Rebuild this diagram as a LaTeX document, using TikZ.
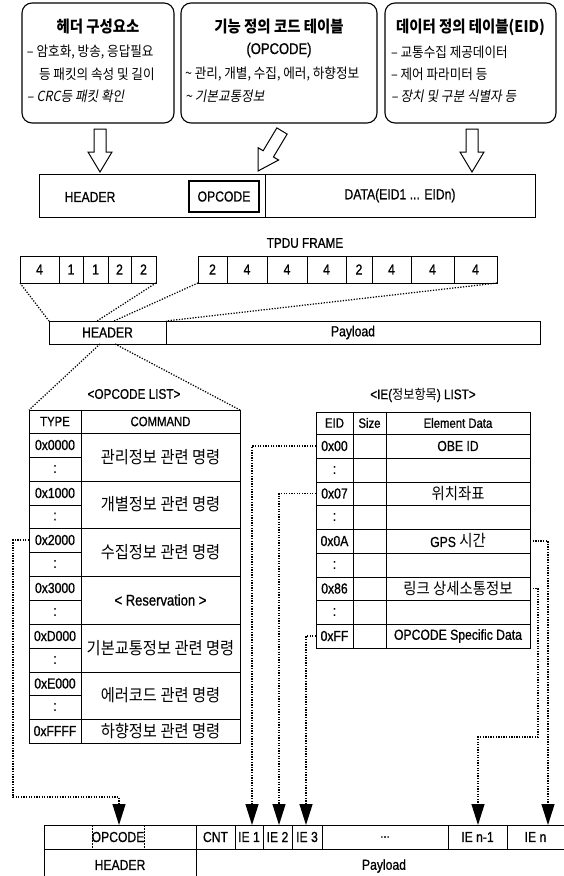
\documentclass[tikz,border=0pt]{standalone}
\usepackage{fontspec}
\setmainfont{Noto Sans CJK KR}
\newfontfamily\kr{Noto Sans CJK KR}[FakeStretch=0.9]
\newfontfamily\krit{Noto Sans CJK KR}[FakeStretch=0.9,FakeSlant=0.18]
\newfontfamily\cond{Liberation Sans}[FakeStretch=0.84,FakeBold=0.8]
\usetikzlibrary{arrows.meta}
\newcommand\latf{\cond\fontsize{14.5}{16}\selectfont}
\newcommand\latsm{\cond\fontsize{13.5}{15}\selectfont}
\newcommand\hanf{\kr\fontsize{17}{19}\selectfont}
\newcommand\hanie{\kr\fontsize{16}{18}\selectfont}
\newcommand\bodyf{\kr\fontsize{14}{16}\selectfont}
\newcommand\bodyit{\krit\fontsize{14}{16}\selectfont}
\newcommand\titf{\kr\bfseries\fontsize{16}{18}\selectfont}
\newcommand\cellnode[7][]{\node[cellst,#1,minimum width={#5-#3},minimum height={#6-#4}] (#2) at ({(#3+#5)/2},{(#4+#6)/2}) {#7};}
\tikzset{
  tbox/.style={draw, line width=1.1pt, rounded corners=10pt, inner sep=0, outer sep=0},
  cellst/.style={draw, line width=1pt, inner sep=0, outer sep=0, font=\latf},
  han/.style={font=\hanf},
  hanie/.style={font=\hanie},
  txt/.style={inner sep=0, outer sep=0},
  hol/.style={draw, line width=1pt, fill=white},
  dots/.style={line width=1.3pt, dash pattern=on 1.3pt off 1.3pt},
  thindots/.style={line width=1.25pt, dash pattern=on 1.25pt off 1.5pt},
  arr/.style={-{Triangle[length=21pt,width=13pt]}},
}
\begin{document}
\begin{tikzpicture}[x=1pt,y=-1pt]
\useasboundingbox (0,0) rectangle (564,876);
\fill[white] (0,0) rectangle (564,876);

% ---------- top description boxes ----------
\node[tbox, minimum width=152, minimum height=120] (b1) at (98,63) {};
\node[tbox, minimum width=196, minimum height=120] (b2) at (279,63) {};
\node[tbox, minimum width=171, minimum height=120] (b3) at (470.5,63) {};

\node[txt, font=\titf] (b1t) at (98,27) {헤더 구성요소};
\node[txt, font=\bodyf, anchor=west] (b1a) at (27,52) {– 암호화, 방송, 응답필요};
\node[txt, font=\bodyf, anchor=west] (b1b) at (39,74) {등 패킷의 속성 및 길이};
\node[txt, font=\bodyit, anchor=west] (b1c) at (27,96) {– CRC등 패킷 확인};

\node[txt, font=\titf] (b2t) at (279,27) {기능 정의 코드 테이블};
\node[txt, font=\cond\fontsize{15.5}{17}\selectfont] (b2o) at (279,50) {(OPCODE)};
\node[txt, font=\bodyf, anchor=west] (b2a) at (185,74) {\textasciitilde\ 관리, 개별, 수집, 에러, 하향정보};
\node[txt, font=\bodyit, anchor=west] (b2b) at (185,96) {\textasciitilde\ 기본교통정보};

\node[txt, font=\titf] (b3t) at (470.5,27) {데이터 정의 테이블(EID)};
\node[txt, font=\bodyf, anchor=west] (b3a) at (391,52) {– 교통수집 제공데이터};
\node[txt, font=\bodyf, anchor=west] (b3b) at (391,74) {– 제어 파라미터 등};
\node[txt, font=\bodyit, anchor=west] (b3c) at (391,96) {– 장치 및 구분 식별자 등};

% ---------- hollow arrows ----------
\draw[hol] (100,172) -- (88,152) -- (94,152) -- (94,129) -- (106,129) -- (106,152) -- (112,152) -- cycle;
\draw[hol] (472,172) -- (460,152) -- (466,152) -- (466,129) -- (478,129) -- (478,152) -- (484,152) -- cycle;
\draw[hol] (258,171) -- (278.58,160.02) -- (273.44,156.94) -- (287.15,134.09) -- (276.85,127.91) -- (263.14,150.76) -- (258.0,147.68) -- cycle;

% ---------- frame ----------
\cellnode{frh}{39}{174}{265}{217}{}
\cellnode{frd}{265}{174}{535}{217}{DATA(EID1 ... EIDn)}
\node[txt, font=\latf] (frht) at (90,197) {HEADER};
\cellnode[line width=1.1pt]{fro}{189}{181}{259}{212}{OPCODE}

% ---------- TPDU frame ----------
\node[txt, font=\cond\fontsize{14}{16}\selectfont] (tpdu) at (305,243) {TPDU FRAME};
\cellnode{l1}{20}{256}{59}{283}{4}
\cellnode{l2}{59}{256}{83}{283}{1}
\cellnode{l3}{83}{256}{108}{283}{1}
\cellnode{l4}{108}{256}{131}{283}{2}
\cellnode{l5}{131}{256}{156}{283}{2}
\cellnode{r1}{198}{256}{227}{283}{2}
\cellnode{r2}{227}{256}{267}{283}{4}
\cellnode{r3}{267}{256}{307}{283}{4}
\cellnode{r4}{307}{256}{346}{283}{4}
\cellnode{r5}{346}{256}{372}{283}{2}
\cellnode{r6}{372}{256}{411}{283}{4}
\cellnode{r7}{411}{256}{454}{283}{4}
\cellnode{r8}{454}{256}{497}{283}{4}

\cellnode{hd}{49}{321}{166}{344}{HEADER}
\cellnode{pl}{166}{321}{540}{344}{Payload}

\coordinate (hdA) at (97,321);
\coordinate (hdB) at (114,321);
\coordinate (hdC) at (100,344);
\coordinate (hdD) at (115,344);
\draw[thindots] (l1.south west) -- (hd.north west);
\draw[thindots] (l5.south east) -- (hdA);
\draw[thindots] (r1.south west) -- (hdB);
\draw[thindots] (r8.south east) -- (hd.north east);

% ---------- OPCODE LIST ----------
\node[txt, font=\cond\fontsize{14}{16}\selectfont] (opt) at (134,394) {<OPCODE LIST>};
\cellnode[font=\latsm]{th}{29}{410}{81}{433}{TYPE}
\cellnode[font=\latsm]{ch}{81}{410}{240}{433}{COMMAND}
\draw[thindots] (hdC) -- (th.north west);
\draw[thindots] (hdD) -- (ch.north east);
\cellnode{t0}{29}{433}{81}{457}{0x0000}
\cellnode{t1}{29}{457}{81}{481}{:}
\cellnode{t2}{29}{481}{81}{505}{0x1000}
\cellnode{t3}{29}{505}{81}{528}{:}
\cellnode{t4}{29}{528}{81}{552}{0x2000}
\cellnode{t5}{29}{552}{81}{576}{:}
\cellnode{t6}{29}{576}{81}{600}{0x3000}
\cellnode{t7}{29}{600}{81}{624}{:}
\cellnode{t8}{29}{624}{81}{648}{0xD000}
\cellnode{t9}{29}{648}{81}{672}{:}
\cellnode{t10}{29}{672}{81}{695}{0xE000}
\cellnode{t11}{29}{695}{81}{719}{:}
\cellnode{t12}{29}{719}{81}{743}{0xFFFF}
\cellnode[han]{c0}{81}{433}{240}{481}{관리정보 관련 명령}
\cellnode[han]{c1}{81}{481}{240}{528}{개별정보 관련 명령}
\cellnode[han]{c2}{81}{528}{240}{576}{수집정보 관련 명령}
\cellnode[font=\cond\fontsize{15.5}{17}\selectfont]{c3}{81}{576}{240}{624}{< Reservation >}
\cellnode[han]{c4}{81}{624}{240}{672}{기본교통정보 관련 명령}
\cellnode[han]{c5}{81}{672}{240}{719}{에러코드 관련 명령}
\cellnode[han]{c6}{81}{719}{240}{743}{하향정보 관련 명령}

% ---------- IE LIST ----------
\node[txt] (iet) at (423,395) {\cond\fontsize{14}{16}\selectfont <IE(\kr\fontsize{13.5}{15}\selectfont 정보항목\cond\fontsize{14}{16}\selectfont) LIST>};
\cellnode[font=\latsm]{eh}{316}{412}{353}{434}{EID}
\cellnode[font=\latsm]{sh}{353}{412}{386}{434}{Size}
\cellnode[font=\latsm]{dh}{386}{412}{530}{434}{Element Data}
\cellnode{e0}{316}{434}{353}{458}{0x00}
\cellnode{s0}{353}{434}{386}{458}{}
\cellnode{d0}{386}{434}{530}{458}{OBE ID}
\cellnode{e1}{316}{458}{353}{482}{:}
\cellnode{s1}{353}{458}{386}{482}{}
\cellnode{d1}{386}{458}{530}{482}{}
\cellnode{e2}{316}{482}{353}{505}{0x07}
\cellnode{s2}{353}{482}{386}{505}{}
\cellnode[hanie]{d2}{386}{482}{530}{505}{위치좌표}
\cellnode{e3}{316}{505}{353}{529}{:}
\cellnode{s3}{353}{505}{386}{529}{}
\cellnode{d3}{386}{505}{530}{529}{}
\cellnode{e4}{316}{529}{353}{553}{0x0A}
\cellnode{s4}{353}{529}{386}{553}{}
\cellnode{d4}{386}{529}{530}{553}{GPS \hanie 시간}
\cellnode{e5}{316}{553}{353}{577}{:}
\cellnode{s5}{353}{553}{386}{577}{}
\cellnode{d5}{386}{553}{530}{577}{}
\cellnode{e6}{316}{577}{353}{600}{0x86}
\cellnode{s6}{353}{577}{386}{600}{}
\cellnode[hanie]{d6}{386}{577}{530}{600}{링크 상세소통정보}
\cellnode{e7}{316}{600}{353}{624}{:}
\cellnode{s7}{353}{600}{386}{624}{}
\cellnode{d7}{386}{600}{530}{624}{}
\cellnode{e8}{316}{624}{353}{648}{0xFF}
\cellnode{s8}{353}{624}{386}{648}{}
\cellnode{d8}{386}{624}{530}{648}{OPCODE Specific Data}

% ---------- bottom frame ----------
\cellnode{bh}{44}{825}{196}{849}{}
\draw[line width=0.8pt, dash pattern=on 1.5pt off 1.5pt] (92,825) -- (92,849);
\draw[line width=0.8pt, dash pattern=on 1.5pt off 1.5pt] (144,825) -- (144,849);
\node[txt, font=\latf] (bop) at (118,837) {OPCODE};
\cellnode{cnt}{196}{825}{235}{849}{CNT}
\cellnode{ie1}{235}{825}{263}{849}{IE 1}
\cellnode{ie2}{263}{825}{292}{849}{IE 2}
\cellnode{ie3}{292}{825}{322}{849}{IE 3}
\cellnode[font=\latsm]{ied}{322}{825}{448}{849}{...}
\cellnode{ien1}{448}{825}{507}{849}{IE n-1}
\cellnode{ien}{507}{825}{564}{849}{IE n}
\coordinate (bl1) at (44,876);
\coordinate (bl2) at (196,876);
\draw[line width=1pt] (bh.south west) -- (bl1);
\draw[line width=1pt] (bh.south east) -- (bl2);
\node[txt, font=\latf] (bhl) at (120,865) {HEADER};
\node[txt, font=\latf] (bpl) at (384,866) {Payload};

% ---------- dotted connectors ----------
\coordinate (aop) at (119,825);
\coordinate (a1) at (252,825);
\coordinate (a2) at (279,825);
\coordinate (a3) at (306,825);
\coordinate (an1) at (478,825);
\coordinate (an) at (548,825);
\coordinate (kop) at (13,797);
\coordinate (kn1) at (538,737);
\draw[dots,arr] (t4.west) -| (kop) -| (aop);
\draw[dots,arr] (e0.west) -| (a1);
\draw[dots,arr] (e2.west) -| (a2);
\draw[dots,arr] (e8.west) -| (a3);
\draw[dots,arr] (d4.east) -| (an);
\draw[dots,arr] (d6.east) -| (kn1) -| (an1);
\end{tikzpicture}
\end{document}
